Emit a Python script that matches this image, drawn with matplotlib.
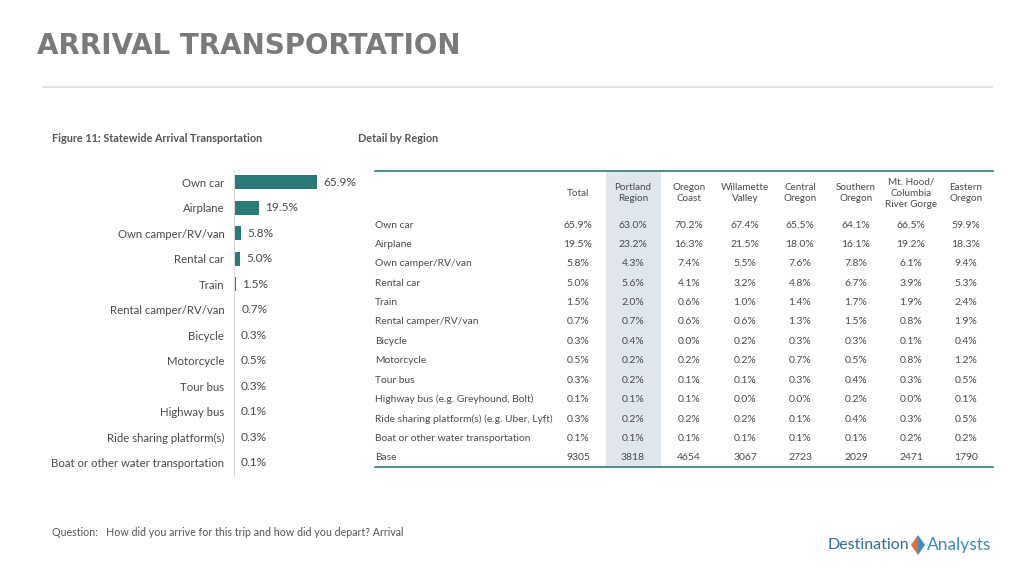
import matplotlib
matplotlib.use("Agg")
import matplotlib.pyplot as plt
from matplotlib.patches import Rectangle, Polygon

plt.rcParams['font.family'] = ['Lato', 'DejaVu Sans']

# ---- data ----
bar_labels = ["Own car", "Airplane", "Own camper/RV/van", "Rental car", "Train",
              "Rental camper/RV/van", "Bicycle", "Motorcycle", "Tour bus",
              "Highway bus", "Ride sharing platform(s)",
              "Boat or other water transportation"]
row_labels = ["Own car", "Airplane", "Own camper/RV/van", "Rental car", "Train",
              "Rental camper/RV/van", "Bicycle", "Motorcycle", "Tour bus",
              "Highway bus (e.g. Greyhound, Bolt)",
              "Ride sharing platform(s) (e.g. Uber, Lyft)",
              "Boat or other water transportation"]
col_labels = ["Total", "Portland\nRegion", "Oregon\nCoast", "Willamette\nValley",
              "Central\nOregon", "Southern\nOregon", "Mt. Hood/\nColumbia\nRiver Gorge",
              "Eastern\nOregon"]

total = [65.9, 19.5, 5.8, 5.0, 1.5, 0.7, 0.3, 0.5, 0.3, 0.1, 0.3, 0.1]
portland = [63.0, 23.2, 4.3, 5.6, 2.0, 0.7, 0.4, 0.2, 0.2, 0.1, 0.2, 0.1]
coast = [70.2, 16.3, 7.4, 4.1, 0.6, 0.6, 0.0, 0.2, 0.1, 0.1, 0.2, 0.1]
willamette = [67.4, 21.5, 5.5, 3.2, 1.0, 0.6, 0.2, 0.2, 0.1, 0.0, 0.2, 0.1]
central = [65.5, 18.0, 7.6, 4.8, 1.4, 1.3, 0.3, 0.7, 0.3, 0.0, 0.1, 0.1]
southern = [64.1, 16.1, 7.8, 6.7, 1.7, 1.5, 0.3, 0.5, 0.4, 0.2, 0.4, 0.1]
mthood = [66.5, 19.2, 6.1, 3.9, 1.9, 0.8, 0.1, 0.8, 0.3, 0.0, 0.3, 0.2]
eastern = [59.9, 18.3, 9.4, 5.3, 2.4, 1.9, 0.4, 1.2, 0.5, 0.1, 0.5, 0.2]
bases = [9305, 3818, 4654, 3067, 2723, 2029, 2471, 1790]

columns = [total, portland, coast, willamette, central, southern, mthood, eastern]

TEAL = "#2a7b78"
TXT = "#4a4a4a"

fig = plt.figure(figsize=(10.24, 5.76), dpi=100)

# pixel overlay for text / table
ov = fig.add_axes([0, 0, 1, 1])
ov.set_xlim(0, 1024)
ov.set_ylim(576, 0)
ov.axis("off")

ov.text(37, 46, "ARRIVAL TRANSPORTATION", fontsize=20, fontweight="bold",
        color="#7a7a7a", va="center", ha="left", family="DejaVu Sans")
ov.plot([43, 992], [87, 87], color="#d9d9d9", lw=1.2)

ov.text(52, 138, "Figure 11: Statewide Arrival Transportation", fontsize=7.8,
        fontweight="bold", color="#555555", va="center")
ov.text(358, 138, "Detail by Region", fontsize=7.8, fontweight="bold",
        color="#555555", va="center")

# ---- bar chart ----
ax = fig.add_axes([234 / 1024, 1 - 475.5 / 576, 126 / 1024, 306 / 576])
ypos = list(range(len(total)))
ax.barh(ypos, total, height=0.55, color=TEAL)
ax.set_xlim(0, 100)
ax.set_ylim(len(total) - 0.5, -0.5)
ax.set_yticks(ypos)
ax.set_yticklabels(bar_labels, fontsize=8.2, color=TXT)
ax.tick_params(axis="y", length=0, pad=7)
ax.set_xticks([])
for s in ["top", "right", "bottom"]:
    ax.spines[s].set_visible(False)
ax.spines["left"].set_color("#d9d9d9")
for y, v in zip(ypos, total):
    ax.text(v + 5, y, f"{v:.1f}%", fontsize=8.6, color=TXT, va="center")

# ---- table ----
col_x = [578, 633, 689, 745, 800, 856, 911, 966]
row_y0, row_dy = 225, 19.4
ov.add_patch(Rectangle((606, 172), 55, 295, color="#dfe6ee", lw=0, zorder=0))
ov.plot([375, 993], [171, 171], color=TEAL, lw=1.2)
ov.plot([375, 993], [467, 467], color=TEAL, lw=1.2)
for cx, lab in zip(col_x, col_labels):
    ov.text(cx, 193, lab, fontsize=7.1, color=TXT, ha="center", va="center",
            linespacing=1.35)
for i, lab in enumerate(row_labels + ["Base"]):
    ov.text(375, row_y0 + i * row_dy, lab, fontsize=7.4, color=TXT, va="center")
for cx, col, b in zip(col_x, columns, bases):
    for i, v in enumerate(col):
        ov.text(cx, row_y0 + i * row_dy, f"{v:.1f}%", fontsize=7.5, color=TXT,
                ha="center", va="center")
    ov.text(cx, row_y0 + len(col) * row_dy, str(b), fontsize=7.5, color=TXT,
            ha="center", va="center")

# ---- footer ----
ov.text(52, 532, "Question:   How did you arrive for this trip and how did you depart? Arrival",
        fontsize=7.7, color="#555555", va="center")
ov.text(909, 545, "Destination", fontsize=11.5, color="#2f6f8f", ha="right", va="center")
ov.add_patch(Polygon([[911, 545], [918, 535], [918, 555]], color="#e0703a", lw=0))
ov.add_patch(Polygon([[918, 535], [925, 545], [918, 555]], color="#3f8fc0", lw=0))
ov.text(927, 545, "Analysts", fontsize=12.5, color="#3d8db5", ha="left", va="center")

fig.savefig("out.png", dpi=100)
